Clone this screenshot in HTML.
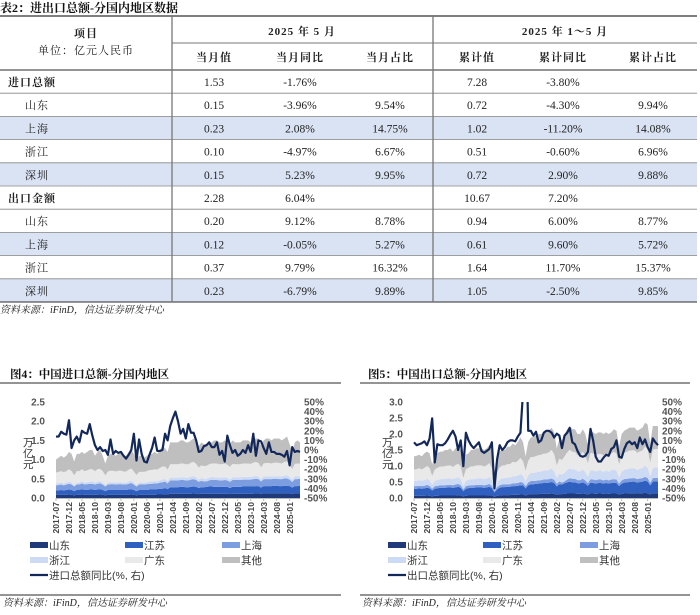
<!DOCTYPE html>
<html><head><meta charset="utf-8">
<style>
html,body{margin:0;padding:0;background:#fff;}
svg{display:block;}
.s{font-family:"Liberation Serif","Noto Serif CJK SC","Noto Sans CJK SC",serif;}
.a{font-family:"Liberation Sans","Noto Sans CJK SC",sans-serif;}
</style></head>
<body>
<svg id="root" width="700" height="615" viewBox="0 0 700 615" xmlns="http://www.w3.org/2000/svg"></svg>
<script>
// ---------- table data ----------
const rowLabels=["进口总额","山东","上海","浙江","深圳","出口金额","山东","上海","浙江","深圳"];
const monthVal=["1.53","0.15","0.23","0.10","0.15","2.28","0.20","0.12","0.37","0.23"];
const monthYoy=["-1.76%","-3.96%","2.08%","-4.97%","5.23%","6.04%","9.12%","-0.05%","9.79%","-6.79%"];
const monthShare=["","9.54%","14.75%","6.67%","9.95%","","8.78%","5.27%","16.32%","9.89%"];
const cumVal=["7.28","0.72","1.02","0.51","0.72","10.67","0.94","0.61","1.64","1.05"];
const cumYoy=["-3.80%","-4.30%","-11.20%","-0.60%","2.90%","7.20%","6.00%","9.60%","11.70%","-2.50%"];
const cumShare=["","9.94%","14.08%","6.96%","9.88%","","8.77%","5.72%","15.37%","9.85%"];

// ---------- chart data (95 months, 2017-07 .. 2025-05) ----------
const tickLabels=["2017-07","2017-12","2018-05","2018-10","2019-03","2019-08","2020-01","2020-06","2020-11","2021-04","2021-09","2022-02","2022-07","2022-12","2023-05","2023-10","2024-03","2024-08","2025-01"];
const leftTicks1=["0.0","0.5","1.0","1.5","2.0","2.5"];
const leftTicks2=["0.0","0.5","1.0","1.5","2.0","2.5","3.0"];
const rightTicks=["-50%","-40%","-30%","-20%","-10%","0%","10%","20%","30%","40%","50%"];
const seriesNames=["山东","江苏","上海","浙江","广东","其他"];

const impSD=[.08,.08,.08,.08,.08,.09, .08,.07,.08,.08,.09,.08,.08,.08,.08,.08,.08,.09, .08,.07,.08,.08,.08,.08,.08,.08,.08,.08,.08,.09, .08,.07,.08,.08,.08,.08,.08,.08,.08,.09,.09,.09, .10,.09,.11,.11,.11,.11,.11,.11,.11,.11,.11,.12, .11,.10,.11,.11,.11,.11,.11,.11,.11,.11,.11,.11, .11,.10,.11,.11,.11,.11,.11,.11,.11,.11,.11,.12, .12,.10,.12,.12,.12,.12,.12,.12,.12,.12,.12,.12, .12,.10,.12,.12,.12];
const impJS=[.12,.12,.13,.12,.13,.13, .13,.11,.13,.13,.14,.13,.13,.14,.14,.13,.14,.14, .13,.11,.13,.13,.13,.13,.13,.13,.13,.13,.14,.14, .13,.11,.13,.13,.13,.13,.14,.14,.14,.14,.15,.15, .16,.14,.17,.17,.17,.17,.18,.18,.17,.17,.18,.18, .18,.16,.17,.17,.18,.19,.19,.18,.18,.18,.18,.18, .18,.16,.18,.18,.18,.18,.19,.19,.19,.19,.19,.19, .19,.17,.19,.19,.19,.19,.20,.20,.19,.19,.20,.20, .19,.17,.19,.19,.20];
const impSH=[.13,.14,.14,.13,.14,.15, .14,.12,.14,.14,.15,.14,.15,.15,.15,.14,.15,.15, .14,.12,.14,.15,.15,.14,.15,.15,.14,.14,.15,.16, .14,.12,.14,.14,.14,.15,.15,.15,.16,.15,.16,.17, .17,.15,.18,.18,.18,.18,.18,.18,.18,.18,.19,.19, .18,.16,.17,.15,.14,.16,.18,.18,.18,.17,.17,.18, .17,.16,.18,.18,.18,.18,.18,.18,.18,.18,.19,.19, .18,.16,.18,.18,.18,.18,.18,.18,.18,.18,.19,.19, .17,.15,.18,.18,.18];
const impZJ=[.05,.05,.05,.05,.05,.06, .05,.04,.05,.05,.06,.05,.05,.06,.06,.05,.06,.06, .05,.04,.05,.05,.05,.05,.05,.05,.05,.05,.06,.06, .05,.04,.05,.05,.05,.05,.06,.06,.06,.06,.06,.07, .07,.06,.07,.07,.07,.07,.07,.07,.07,.07,.08,.08, .07,.06,.07,.07,.07,.07,.07,.07,.07,.07,.07,.07, .07,.06,.07,.07,.07,.07,.07,.07,.07,.07,.07,.08, .07,.06,.07,.07,.07,.07,.07,.07,.07,.07,.08,.08, .07,.06,.07,.07,.07];
const impGD=[.28,.29,.30,.29,.30,.32, .30,.25,.30,.30,.31,.30,.31,.32,.32,.30,.32,.32, .30,.25,.29,.30,.30,.29,.30,.30,.29,.29,.31,.32, .29,.26,.28,.28,.28,.29,.30,.30,.31,.30,.32,.34, .32,.30,.35,.35,.35,.35,.36,.36,.35,.35,.36,.37, .35,.31,.33,.33,.34,.35,.35,.36,.36,.35,.35,.36, .34,.33,.35,.34,.34,.34,.35,.35,.35,.34,.36,.36, .35,.31,.34,.35,.35,.34,.35,.35,.35,.34,.35,.36, .32,.28,.33,.34,.33];
const impTotal=[1.00,1.05,1.10,1.05,1.10,1.20, 1.15,0.95,1.15,1.15,1.20,1.15,1.20,1.25,1.25,1.10,1.20,1.25, 1.10,0.90,1.10,1.15,1.15,1.10,1.15,1.15,1.10,1.10,1.20,1.25, 1.15,1.00,1.10,1.10,1.05,1.10,1.15,1.15,1.20,1.15,1.25,1.35, 1.30,1.20,1.45,1.45,1.45,1.45,1.50,1.50,1.45,1.45,1.50,1.55, 1.50,1.35,1.45,1.40,1.40,1.45,1.45,1.50,1.50,1.45,1.45,1.50, 1.45,1.40,1.50,1.45,1.45,1.45,1.50,1.50,1.50,1.45,1.55,1.55, 1.55,1.35,1.50,1.55,1.55,1.50,1.55,1.55,1.55,1.50,1.55,1.60, 1.40,1.20,1.45,1.50,1.45];
const impYoy=[14,14,19,17,16,31, 2,10,14,8,20,18,17,27,15,5,0,3, -1,0,-5,11,-4,-1,-3,-2,-6,-9,-5,0, 17,-11,11,-4,-12,-13,-5,2,13,-1,-1,0, 17,10,25,33,40,30,17,22,12,27,18,18, 10,-2,-1,4,5,8,3,3,8,-5,-1,-12, 15,5,-3,0,-6,-4,0,-3,5,-2,17,-6, 10,9,2,-4,8,-2,-2,-4,-4,-5,-7,-1, -16,3,-2,-1,-2];

const expSD=[.07,.07,.07,.07,.07,.08, .07,.05,.07,.07,.08,.08,.08,.08,.08,.08,.08,.09, .08,.05,.07,.08,.08,.08,.08,.08,.08,.08,.08,.09, .08,.04,.07,.08,.09,.09,.09,.09,.10,.10,.10,.11, .11,.08,.11,.12,.12,.12,.12,.13,.13,.13,.13,.14, .13,.10,.12,.12,.13,.14,.14,.14,.14,.13,.13,.14, .13,.11,.14,.14,.13,.14,.14,.13,.14,.13,.14,.14, .14,.11,.13,.14,.14,.15,.15,.15,.14,.15,.15,.16, .15,.11,.15,.15,.15];
const expJS=[.22,.22,.23,.22,.23,.24, .23,.18,.22,.23,.24,.24,.24,.25,.25,.24,.25,.26, .24,.16,.22,.23,.24,.24,.25,.25,.25,.24,.25,.26, .23,.13,.20,.24,.25,.25,.26,.26,.27,.27,.28,.29, .28,.22,.29,.31,.31,.32,.33,.33,.34,.34,.35,.36, .34,.26,.31,.30,.33,.35,.37,.35,.35,.33,.33,.35, .32,.27,.34,.33,.32,.33,.33,.32,.33,.32,.33,.34, .33,.26,.32,.34,.35,.35,.36,.36,.34,.35,.36,.38, .37,.28,.36,.37,.37];
const expSH=[.08,.08,.08,.08,.08,.09, .08,.06,.08,.08,.08,.08,.08,.08,.08,.08,.09,.09, .08,.06,.08,.08,.08,.08,.08,.08,.08,.08,.08,.09, .07,.05,.07,.08,.08,.08,.08,.08,.09,.09,.09,.10, .09,.07,.09,.10,.10,.10,.10,.10,.11,.11,.11,.11, .10,.08,.09,.06,.06,.09,.11,.11,.11,.10,.10,.11, .10,.08,.11,.11,.11,.11,.11,.10,.11,.10,.11,.11, .11,.08,.10,.11,.11,.11,.11,.11,.11,.11,.11,.12, .11,.08,.11,.11,.11];
const expZJ=[.17,.17,.18,.17,.18,.19, .18,.12,.17,.18,.19,.19,.20,.20,.20,.19,.20,.21, .19,.11,.17,.18,.19,.19,.20,.20,.20,.19,.20,.22, .18,.08,.15,.18,.20,.20,.21,.21,.22,.22,.23,.25, .22,.15,.22,.25,.25,.26,.27,.27,.28,.28,.29,.31, .27,.19,.24,.25,.27,.29,.31,.29,.29,.27,.27,.30, .26,.21,.28,.28,.27,.28,.28,.27,.28,.27,.29,.30, .28,.20,.27,.29,.30,.31,.31,.31,.29,.30,.32,.35, .32,.21,.32,.33,.33];
const expGD=[.35,.36,.37,.35,.38,.40, .38,.28,.35,.38,.39,.39,.40,.40,.41,.38,.41,.42, .40,.25,.36,.37,.40,.40,.41,.41,.41,.39,.41,.43, .38,.20,.32,.38,.39,.40,.42,.42,.45,.43,.46,.50, .45,.33,.45,.50,.50,.51,.52,.52,.53,.53,.55,.58, .53,.39,.47,.46,.51,.55,.58,.55,.55,.51,.51,.55, .51,.42,.54,.53,.51,.52,.52,.51,.52,.51,.52,.55, .53,.40,.51,.53,.54,.56,.56,.56,.53,.54,.55,.60, .58,.42,.57,.57,.57];
const expTotal=[1.30,1.32,1.35,1.30,1.40,1.45, 1.40,1.05,1.30,1.40,1.45,1.45,1.50,1.50,1.55,1.45,1.55,1.60, 1.50,0.90,1.35,1.40,1.50,1.50,1.55,1.55,1.55,1.50,1.55,1.65, 1.45,0.80,1.25,1.45,1.50,1.50,1.60,1.60,1.70,1.65,1.75,1.90, 1.75,1.30,1.75,1.90,1.90,1.95,2.00,2.00,2.05,2.05,2.10,2.20, 2.05,1.55,1.85,1.80,2.00,2.15,2.25,2.15,2.15,2.00,2.00,2.15, 2.00,1.65,2.10,2.05,2.00,2.05,2.05,2.00,2.05,2.00,2.05,2.15, 2.10,1.60,2.00,2.10,2.15,2.20,2.20,2.20,2.10,2.15,2.20,2.35, 2.30,1.70,2.25,2.25,2.25];
const expYoy=[8,5,6,7,9,5, 12,33,-13,6,5,5,7,11,16,20,14,0, 10,-17,18,10,5,2,5,8,-1,-3,-1,1, 8,-40,-10,5,0,3,8,10,10,9,14,18, 60,154,20,20,15,19,8,10,18,20,20,18, 13,17,15,2,15,18,23,8,6,-1,-6,-7, -6,-2,22,10,-7,-12,-12,-8,-5,-6,1,3, 10,-7,-8,1,7,9,6,8,2,13,6,11, 3,-2,12,8,5];

const colors=["#1f3a78","#2f5fbf","#7c9ee0","#cddaf3","#e9e9e9","#bfbfbf"];
const NS="http://www.w3.org/2000/svg";
const root=document.getElementById('root');
function mk(tag,attrs,parent,text){const e=document.createElementNS(NS,tag);for(const k in attrs)e.setAttribute(k,attrs[k]);if(text!==undefined)e.textContent=text;(parent||root).appendChild(e);return e;}

// ---------- TABLE ----------
const tbl=mk('g',{});


let t=mk('text',{x:0,y:12,'font-size':12,'font-weight':'bold',class:'s',fill:'#111'},tbl,'表2：进出口总额-分国内地区数据');


const rowTop=70,rowH=23.2;
rowLabels.forEach((lab,i)=>{
  const y=rowTop+i*rowH;
  if(i===2||i===4||i===7||i===9){const r=mk('rect',{x:0,y:y,width:697,height:rowH,fill:'#dae3f3'},tbl);
    
    }
});
mk('line',{x1:0,y1:16,x2:697,y2:16,stroke:'#555','stroke-width':1.5},tbl);
mk('line',{x1:172,y1:43,x2:697,y2:43,stroke:'#777','stroke-width':1},tbl);
for(let i=0;i<=10;i++){const y=rowTop+i*rowH;mk('line',{x1:0,y1:y,x2:697,y2:y,stroke:i===0||i===10?'#555':'#888','stroke-width':i===0||i===10?1.3:0.8},tbl);}
mk('line',{x1:172,y1:16,x2:172,y2:rowTop+10*rowH,stroke:'#777','stroke-width':1.3},tbl);
mk('line',{x1:433,y1:16,x2:433,y2:rowTop+10*rowH,stroke:'#777','stroke-width':1.3},tbl);
const hdr=[[86,37,'项目',true],[86,54,'单位：亿元人民币',false],[302,35,'2025 年 5 月',true],[565,35,'2025 年 1～5 月',true],
 [214,61,'当月值',true],[300,61,'当月同比',true],[390,61,'当月占比',true],[477,61,'累计值',true],[563,61,'累计同比',true],[653,61,'累计占比',true]];
hdr.forEach(h=>{const e=mk('text',{x:h[0],y:h[1],'text-anchor':'middle','font-size':11,'font-weight':h[3]?'bold':'normal',class:'s',fill:'#222','letter-spacing':1},tbl,h[2]);
  
  });
const cols=[[214,monthVal],[300,monthYoy],[390,monthShare],[477,cumVal],[563,cumYoy],[653,cumShare]];
rowLabels.forEach((lab,i)=>{
  const y=rowTop+i*rowH+16;
  const bold=(i===0||i===5);
  const e=mk('text',{x:bold?8:25,y:y,'font-size':11,'font-weight':bold?'bold':'normal',class:'s',fill:'#222','letter-spacing':1},tbl,lab);
  
  
  cols.forEach(c=>{const v=mk('text',{x:c[0],y:y,'text-anchor':'middle','font-size':11.5,class:'s',fill:'#222'},tbl,c[1][i]);
    
    });
});
t=mk('text',{x:0,y:313,'font-size':10,'font-style':'italic',class:'s',fill:'#222'},tbl,'资料来源：iFinD，信达证券研发中心');



// ---------- CHARTS ----------
function chart(cfg){
  const g=mk('g',{});
  
  
  let e=mk('text',{x:cfg.tx,y:378,'font-size':11.5,'font-weight':'bold',class:'s',fill:'#111'},g,cfg.title);
  
  
  mk('line',{x1:cfg.ox,y1:383,x2:cfg.ox+cfg.w,y2:383,stroke:'#555','stroke-width':1.2},g);
  mk('line',{x1:cfg.ox,y1:595,x2:cfg.ox+cfg.w,y2:595,stroke:'#555','stroke-width':1.2},g);
  e=mk('text',{x:cfg.sx,y:606,'font-size':10,'font-style':'italic',class:'s',fill:'#222'},g,'资料来源：iFinD，信达证券研发中心');
  
  
  const x0=cfg.x0,x1=cfg.x1,yT=402,yB=498,n=cfg.total.length;
  const xs=i=>x0+(x1-x0)*i/(n-1);
  const yL=v=>yB-(yB-yT)*v/cfg.lmax;
  const yR=v=>yB-(yB-yT)*(v+50)/100;
  const layers=cfg.layers.slice();
  const other=cfg.total.map((v,i)=>v-layers.reduce((s,L)=>s+L[i],0));
  layers.push(other);
  let base=new Array(n).fill(0);
  const areas=mk('g',{},g);
  
  
  layers.forEach((L,k)=>{
    const top=base.map((b,i)=>b+Math.max(0,L[i]));
    let d='M'+xs(0)+','+yL(top[0]);
    for(let i=1;i<n;i++)d+='L'+xs(i).toFixed(2)+','+yL(top[i]).toFixed(2);
    for(let i=n-1;i>=0;i--)d+='L'+xs(i).toFixed(2)+','+yL(base[i]).toFixed(2);
    const p=mk('path',{d:d+'Z',fill:colors[k]},areas);
    
    
    base=top;
  });
  const clip='clip'+cfg.ox;
  const cp=mk('clipPath',{id:clip},g);mk('rect',{x:x0-5,y:yT,width:x1-x0+10,height:yB-yT},cp);
  let d='';
  cfg.yoy.forEach((v,i)=>{d+=(i?'L':'M')+xs(i).toFixed(2)+','+yR(v).toFixed(2);});
  const ln=mk('path',{d:d,fill:'none',stroke:'#13285a','stroke-width':2.2,'stroke-linejoin':'round','clip-path':'url(#'+clip+')'},g);
  
  
  mk('line',{x1:x0,y1:yB+0.5,x2:x1,y2:yB+0.5,stroke:'#bbb','stroke-width':1},g);
  cfg.lt.forEach((s)=>{const e=mk('text',{x:x0-11,y:yL(parseFloat(s))+3.5,'text-anchor':'end','font-size':10,'font-weight':'bold',class:'a',fill:'#555'},g,s);
    
    });
  rightTicks.forEach(s=>{const e=mk('text',{x:x1+4,y:yR(parseFloat(s))+3.5,'font-size':10,'font-weight':'bold',class:'a',fill:'#555'},g,s);
    
    });
  ['万','亿','元'].forEach((c,i)=>{const e=mk('text',{x:cfg.yx,y:446+i*11,'font-size':10.5,class:'a',fill:'#333'},g,c);
    
    });
  tickLabels.forEach((s,j)=>{const x=xs(j*5);
    mk('line',{x1:x,y1:yB,x2:x,y2:yB+3,stroke:'#bbb'},g);
    const e=mk('text',{x:0,y:0,transform:'translate('+(x+3.2)+','+(yB+4)+') rotate(-90)','text-anchor':'end','font-size':8.6,'font-weight':'bold',class:'a',fill:'#444'},g,s);
    
    });
  const lx=cfg.legX;
  seriesNames.forEach((s,k)=>{const r=Math.floor(k/3),c=k%3;const y=545+r*15;
    const sw=mk('rect',{x:lx[c],y:y-3,width:18,height:6,fill:colors[k]},g);
    
    
    const e=mk('text',{x:lx[c]+19,y:y+4,'font-size':10.5,class:'a',fill:'#333'},g,s);
    
    });
  mk('line',{x1:lx[0],y1:575,x2:lx[0]+18,y2:575,stroke:'#13285a','stroke-width':2.2},g);
  e=mk('text',{x:lx[0]+19,y:579,'font-size':10.5,class:'a',fill:'#333'},g,cfg.lineName);
  
  
}
chart({name:'import-chart',title:'图4：中国进口总额-分国内地区',ox:0,w:341,tx:10,sx:3,yx:23,x0:56,x1:300,lmax:2.5,lt:leftTicks1,
  layers:[impSD,impJS,impSH,impZJ,impGD],total:impTotal,yoy:impYoy,legX:[30,125,222],lineName:'进口总额同比(%, 右)'});
chart({name:'export-chart',title:'图5：中国出口总额-分国内地区',ox:360,w:330,tx:368,sx:362,yx:382,x0:414,x1:658,lmax:3.0,lt:leftTicks2,
  layers:[expSD,expJS,expSH,expZJ,expGD],total:expTotal,yoy:expYoy,legX:[388,483,580],lineName:'出口总额同比(%, 右)'});
</script>
</body></html>
